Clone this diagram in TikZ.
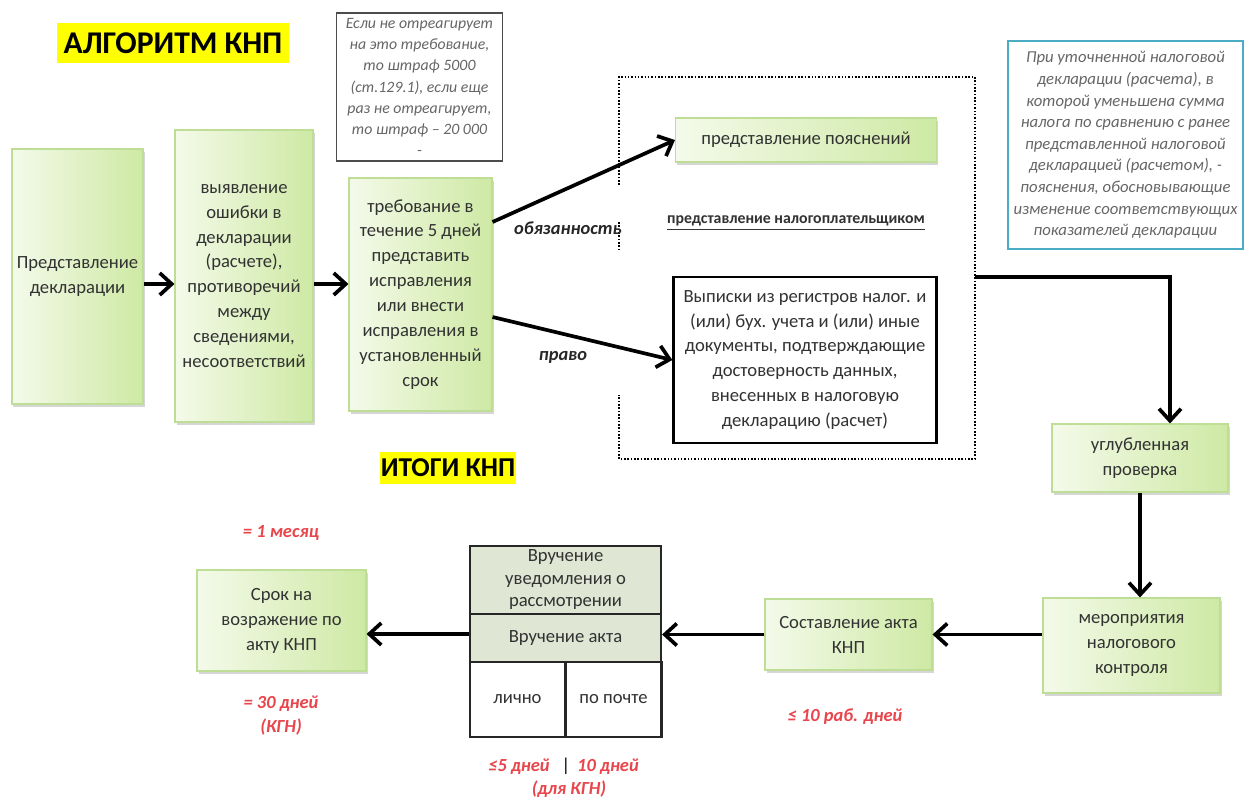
\documentclass[tikz,border=0pt]{standalone}
\usepackage{fontspec}
\setmainfont{Carlito}
\usepackage{xcolor}
\usepackage{tikz}
\usetikzlibrary{arrows.meta,shadows}

\definecolor{knplight}{RGB}{244,250,234}
\definecolor{knpgreen}{RGB}{206,233,164}
\definecolor{knpedge}{RGB}{190,222,150}
\definecolor{knpgray}{RGB}{223,230,212}
\definecolor{knpred}{RGB}{232,70,76}
\definecolor{knpteal}{RGB}{75,172,198}
\definecolor{knptext}{RGB}{50,50,50}
\definecolor{knpyellow}{RGB}{255,255,0}

\begin{document}
\begin{tikzpicture}[x=0.2mm,y=-0.2mm,
	every node/.style={font=\fontsize{10.6}{14.2}\selectfont, text=knptext, align=center},
	greenbox/.style={draw=knpedge, line width=0.6pt, left color=knplight, right color=knpgreen, inner sep=0pt,
		drop shadow={shadow xshift=0.3mm, shadow yshift=-0.6mm, fill=black!40, opacity=0.4}},
	tablecell/.style={draw=black!85, line width=1.2pt, inner sep=0pt},
	notebox/.style={draw=black!70, line width=0.6pt, fill=white, font=\fontsize{9}{12}\selectfont\itshape, text=black!60, inner sep=0pt},
	titlebox/.style={fill=knpyellow, text=black, inner sep=0pt},
	redlabel/.style={text=knpred, font=\fontsize{10.5}{13.6}\selectfont\itshape\bfseries},
	arrlabel/.style={text=black!85, font=\fontsize{10.5}{12}\selectfont\itshape\bfseries},
	arr/.style={line width=2.1pt, -{Straight Barb[length=2.4mm,width=4.4mm]}}]
	\useasboundingbox (0,0) rectangle (1250,799);
	\fill[white] (0,0) rectangle (1250,799);
	\node[titlebox, minimum width=46.4mm, minimum height=8mm, font=\fontsize{18}{20}\selectfont\bfseries] (algtitle) at (173,43) {АЛГОРИТМ КНП};
	\node[titlebox, minimum width=27.2mm, minimum height=6.4mm, font=\fontsize{15.5}{17}\selectfont\bfseries] (sumtitle) at (448,468) {ИТОГИ КНП};
	\node[greenbox, minimum width=26.2mm, minimum height=51mm] (decl) at (77.5,276.5) {Представление\\декларации};
	\node[greenbox, minimum width=27.6mm, minimum height=58.4mm] (error) at (244,276) {выявление\\ошибки в\\декларации\\(расчете),\\противоречий\\между\\сведениями,\\несоответствий};
	\node[greenbox, minimum width=28.6mm, minimum height=46.6mm] (demand) at (420.5,294.5) {требование в\\течение 5 дней\\представить\\исправления\\или внести\\исправления в\\установленный\\срок};
	\node[notebox, minimum width=33.2mm, minimum height=29.6mm] (fine) at (419.5,87) {Если не отреагирует\\на это требование,\\то штраф 5000\\(ст.129.1), если еще\\раз не отреагирует,\\то штраф – 20 000\\-};
	\draw[densely dotted, line width=0.9pt] (619,185) -- (619,77) -- (975,77) -- (975,459) -- (619,459) -- (619,395);
	\draw[densely dotted, line width=0.9pt] (619,222) -- (619,252);
	\coordinate (frameout) at (975,277);
	\node[greenbox, minimum width=52.2mm, minimum height=8.8mm] (expl) at (806,140) {представление пояснений};
	\node[font=\fontsize{9}{11}\selectfont\bfseries] (payer) at (796,223) {\underline{представление налогоплательщиком}};
	\node[draw=black, line width=1.3pt, fill=white, minimum width=52.6mm, minimum height=33.2mm, inner sep=0pt] (extract) at (805,360) {Выписки из регистров налог. и\\(или) бух. учета и (или) иные\\документы, подтверждающие\\достоверность данных,\\внесенных в налоговую\\декларацию (расчет)};
	\node[arrlabel] (duty) at (568,228) {обязанность};
	\node[arrlabel] (right) at (563,357) {право};
	\node[notebox, draw=knpteal, line width=1.3pt, minimum width=47mm, minimum height=41.6mm, font=\fontsize{9.5}{12.3}\selectfont\itshape] (clarif) at (1125.5,145) {При уточненной налоговой\\декларации (расчета), в\\которой уменьшена сумма\\налога по сравнению с ранее\\представленной налоговой\\декларацией (расчетом), -\\пояснения, обосновывающие\\изменение соответствующих\\показателей декларации};
	\node[greenbox, minimum width=35.2mm, minimum height=13.6mm] (deep) at (1140,458) {углубленная\\проверка};
	\node[greenbox, minimum width=35.4mm, minimum height=19mm] (control) at (1131.5,645.5) {мероприятия\\налогового\\контроля};
	\node[greenbox, minimum width=33.4mm, minimum height=14.2mm] (act) at (848.5,634.5) {Составление акта\\КНП};
	\node[tablecell, fill=knpgray, minimum width=38.2mm, minimum height=13.6mm, font=\fontsize{10.6}{12.8}\selectfont] (notice) at (565.5,580) {Вручение\\уведомления о\\рассмотрении};
	\node[tablecell, fill=knpgray, minimum width=38.2mm, minimum height=9.6mm] (handact) at (565.5,638) {Вручение акта};
	\node[tablecell, minimum width=19mm, minimum height=15mm] (personal) at (517.5,699.5) {лично};
	\node[tablecell, minimum width=19.2mm, minimum height=15mm] (post) at (613.5,699.5) {по почте};
	\node[greenbox, minimum width=33.8mm, minimum height=20.2mm] (objection) at (281.5,620.5) {Срок на\\возражение по\\акту КНП};
	\node[redlabel] (month) at (281,533) {= 1 месяц};
	\node[redlabel] (days30) at (281,716) {= 30 дней\\(КГН)};
	\node[redlabel] (days10) at (845,717) {≤ 10 раб. дней};
	\node[redlabel] (days5) at (519,767) {≤5 дней};
	\node[text=black] (sep) at (566,766) {|};
	\node[redlabel] (days10kgn) at (608,767) {10 дней};
	\node[redlabel] (kgn) at (569,789) {(для КГН)};
	\draw[arr] (decl.east |- 0,284) -- (error.west |- 0,284);
	\draw[arr] (error.east |- 0,284) -- (demand.west |- 0,284);
	\draw[arr] ([yshift=14.5mm]demand.east) -- (expl.west);
	\draw[arr] ([yshift=-4.5mm]demand.east) -- (extract.west);
	\draw[arr] (frameout) -| ([xshift=6mm]deep.north);
	\draw[arr] (deep.south) -- (deep.south |- control.north);
	\draw[arr] (control.west |- act.east) -- (act.east);
	\draw[arr] (act.west) -- (act.west -| handact.east);
	\draw[arr] (handact.west |- 0,634) -- (objection.east |- 0,634);
\end{tikzpicture}
\end{document}
